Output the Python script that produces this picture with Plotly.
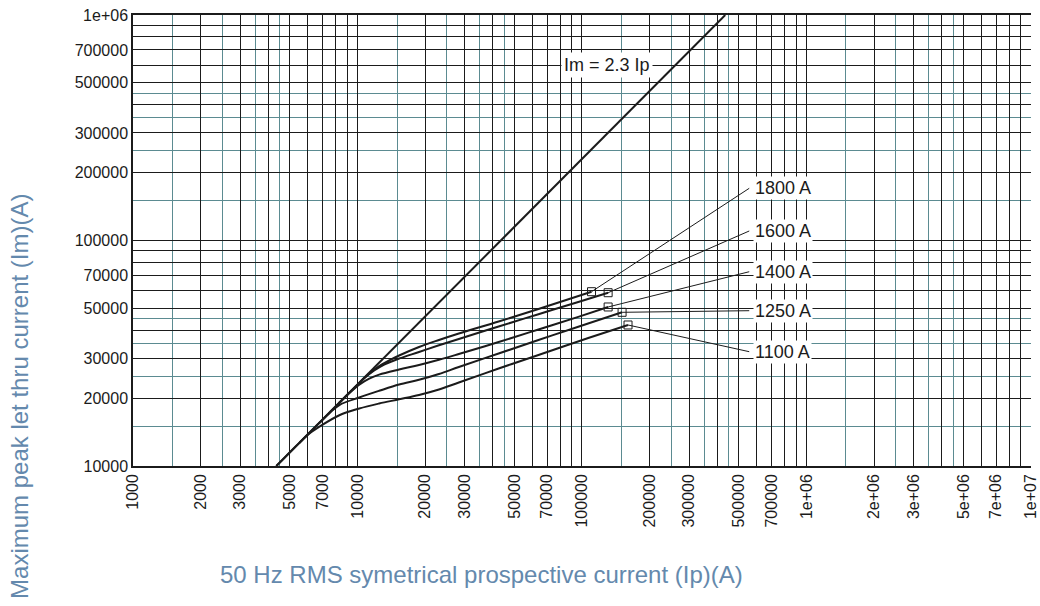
import math
import plotly.graph_objects as go

# ---------------- data ----------------
# Im = 2.3 Ip limit line
ip_limit = [4348, 434783]
im_limit = [10000, 1000000]

# cut-off curves, prospective current Ip (A) -> peak let-thru Im (A)
ip_1100 = [4351, 5520, 6115, 6769, 8304, 10185, 12490, 15330, 18800, 23060, 28280, 42540, 64010, 106700, 160400]
im_1100 = [10000, 12690, 13935, 14940, 16790, 17990, 18930, 19760, 20650, 21840, 23460, 27060, 31060, 36950, 42200]

ip_1250 = [5520, 6769, 7497, 8304, 10185, 12490, 15330, 18800, 23060, 28280, 42540, 64010, 96300, 150900]
im_1250 = [12690, 15540, 17150, 18640, 20130, 21550, 22980, 24120, 25590, 27480, 31540, 36210, 41430, 48040]

ip_1400 = [6769, 8304, 9196, 10185, 11280, 12490, 15330, 18800, 23060, 28280, 42540, 64010, 96300, 130800]
im_1400 = [15540, 19070, 21050, 22960, 24430, 25430, 26790, 28050, 29580, 31380, 35470, 40300, 45870, 50720]

ip_1600 = [8304, 9678, 10720, 11870, 13150, 15330, 18800, 23060, 28280, 42540, 64010, 96300, 130800]
im_1600 = [19070, 22200, 24480, 26510, 28190, 29970, 32040, 34290, 36590, 41560, 47120, 53380, 58680]

ip_1800 = [8304, 10185, 11280, 12490, 13840, 15330, 18800, 23060, 28280, 42540, 64010, 110300]
im_1800 = [19070, 23360, 25720, 27770, 29370, 30900, 33710, 36210, 38700, 43740, 49690, 59290]

curve_names = ["1100 A", "1250 A", "1400 A", "1600 A", "1800 A"]
# leader line label anchors (Ip, Im)
label_ip = [556000, 556000, 556000, 556000, 556000]
label_im = [32130, 48830, 72700, 110200, 170400]

limit_label = "Im = 2.3 Ip"
limit_label_ip = 129400
limit_label_im = 600000

x_tick_vals_labeled = [1000, 2000, 3000, 5000, 7000, 10000, 20000, 30000, 50000, 70000,
                       100000, 200000, 300000, 500000, 700000, 1000000, 2000000, 3000000,
                       5000000, 7000000, 10000000]
x_tick_text = ["1000", "2000", "3000", "5000", "7000", "10000", "20000", "30000", "50000",
               "70000", "100000", "200000", "300000", "500000", "700000", "1e+06", "2e+06",
               "3e+06", "5e+06", "7e+06", "1e+07"]
y_tick_vals_labeled = [10000, 20000, 30000, 50000, 70000, 100000, 200000, 300000, 500000,
                       700000, 1000000]
y_tick_text = ["10000", "20000", "30000", "50000", "70000", "100000", "200000", "300000",
               "500000", "700000", "1e+06"]

x_title = "50 Hz RMS symetrical prospective current (Ip)(A)"
y_title = "Maximum peak let thru current (Im)(A)"

# ---------------- styling helpers ----------------
FONT = "Liberation Sans, Arial, Helvetica, sans-serif"
BLACK = "#1b1b1b"
TEAL = "#5b8b91"
TITLE_COLOR = "#6489ad"


def grid_positions(e0, e1, mults):
    vals = []
    for e in range(e0, e1):
        for m in mults:
            vals.append(m * 10 ** e)
    return vals


x_major = grid_positions(3, 7, range(1, 10)) + [10 ** 7]
y_major = grid_positions(4, 6, range(1, 10)) + [10 ** 6]
x_minor = grid_positions(3, 7, [1.5, 2.5, 3.5, 4.5])
y_minor = grid_positions(4, 6, [1.5, 2.5, 3.5, 4.5])


def tick_text(major, labeled, labels):
    lookup = {round(v): t for v, t in zip(labeled, labels)}
    return [lookup.get(round(v), "") for v in major]


fig = go.Figure()

# limit line
fig.add_trace(go.Scatter(x=ip_limit, y=im_limit, mode="lines",
                         line=dict(color=BLACK, width=2), hoverinfo="skip"))

curves = [(ip_1100, im_1100), (ip_1250, im_1250), (ip_1400, im_1400),
          (ip_1600, im_1600), (ip_1800, im_1800)]

for (ips, ims), name, lx, ly in zip(curves, curve_names, label_ip, label_im):
    fig.add_trace(go.Scatter(x=ips, y=ims, mode="lines", name=name,
                             line=dict(color=BLACK, width=2, shape="spline", smoothing=1.0)))
    # leader line from the end point to the label
    fig.add_trace(go.Scatter(x=[ips[-1], lx], y=[ims[-1], ly], mode="lines",
                             line=dict(color=BLACK, width=1), hoverinfo="skip"))
    # end marker
    fig.add_trace(go.Scatter(x=[ips[-1]], y=[ims[-1]], mode="markers",
                             marker=dict(symbol="square-open", size=8, color=BLACK,
                                         line=dict(width=1, color=BLACK)),
                             hoverinfo="skip"))
    fig.add_annotation(x=math.log10(lx), y=math.log10(ly), text=name, showarrow=False,
                       xanchor="left", yanchor="middle", xshift=4,
                       font=dict(family=FONT, size=18, color=BLACK),
                       bgcolor="white", borderpad=1)

fig.add_annotation(x=math.log10(limit_label_ip), y=math.log10(limit_label_im),
                   text=limit_label, showarrow=False, xanchor="center", yanchor="middle",
                   font=dict(family=FONT, size=18, color=BLACK), bgcolor="white", borderpad=2)

# axis titles (placed as in the reference)
fig.add_annotation(xref="paper", yref="paper", x=0.388, y=-0.2395, text=x_title,
                   showarrow=False, xanchor="center", yanchor="middle",
                   font=dict(family=FONT, size=24, color=TITLE_COLOR))
fig.add_annotation(xref="paper", yref="paper", x=-0.127, y=0.1552, text=y_title,
                   showarrow=False, xanchor="center", yanchor="middle", textangle=-90,
                   font=dict(family=FONT, size=24, color=TITLE_COLOR))

fig.update_xaxes(type="log", range=[3, 7.0003], automargin=False,
                 tickmode="array", tickvals=x_major,
                 ticktext=tick_text(x_major, x_tick_vals_labeled, x_tick_text),
                 tickangle=-90, ticks="", ticklabeloverflow="allow",
                 tickfont=dict(family=FONT, size=16, color=BLACK),
                 showgrid=True, gridcolor=BLACK, gridwidth=1.3,
                 minor=dict(tickmode="array", tickvals=x_minor, showgrid=True,
                            gridcolor=TEAL, gridwidth=1.3, ticks=""),
                 showline=True, linecolor=BLACK, linewidth=1.5, mirror=True,
                 zeroline=False)
fig.update_yaxes(type="log", range=[4, 6], automargin=False,
                 tickmode="array", tickvals=y_major,
                 ticktext=tick_text(y_major, y_tick_vals_labeled, y_tick_text),
                 ticks="", ticklabeloverflow="allow",
                 tickfont=dict(family=FONT, size=16, color=BLACK),
                 showgrid=True, gridcolor=BLACK, gridwidth=1.3,
                 minor=dict(tickmode="array", tickvals=y_minor, showgrid=True,
                            gridcolor=TEAL, gridwidth=1.3, ticks=""),
                 showline=True, linecolor=BLACK, linewidth=1.5, mirror=False,
                 zeroline=False)

fig.update_layout(width=1040, height=606, autosize=False,
                  margin=dict(l=133, r=9, t=15, b=140),
                  plot_bgcolor="white", paper_bgcolor="white",
                  showlegend=False, font=dict(family=FONT))

# remove the default 8px page margin so the figure sits at the page origin
fig.write_html("out.html", config={"displayModeBar": False},
               post_script="document.body.style.margin='0px';")
